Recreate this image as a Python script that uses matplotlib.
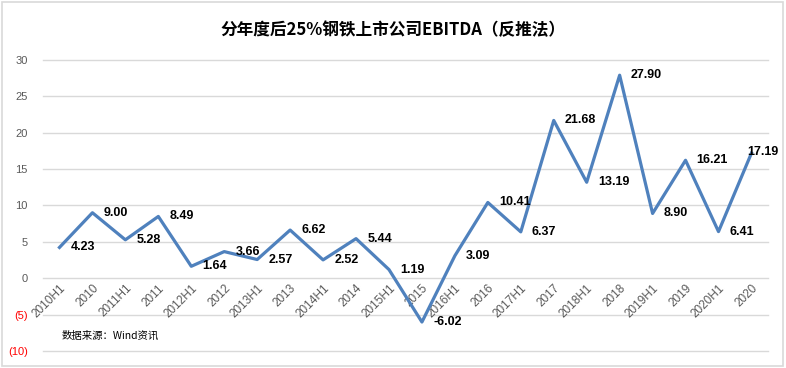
import matplotlib.pyplot as plt
from matplotlib.patches import Rectangle
from matplotlib.ticker import FuncFormatter

plt.rcParams['font.family'] = ['Noto Sans CJK SC', 'DejaVu Sans']

# 数据
periods = ['2010H1', '2010', '2011H1', '2011', '2012H1', '2012', '2013H1', '2013',
           '2014H1', '2014', '2015H1', '2015', '2016H1', '2016', '2017H1', '2017',
           '2018H1', '2018', '2019H1', '2019', '2020H1', '2020']
ebitda = [4.23, 9.00, 5.28, 8.49, 1.64, 3.66, 2.57, 6.62, 2.52, 5.44, 1.19, -6.02,
          3.09, 10.41, 6.37, 21.68, 13.19, 27.90, 8.90, 16.21, 6.41, 17.19]
yticks = [-10, -5, 0, 5, 10, 15, 20, 25, 30]

fig = plt.figure(figsize=(7.86, 3.68), dpi=100)
fig.patches.append(Rectangle((0.003, 0.005), 0.993, 0.99, transform=fig.transFigure,
                             fill=False, edgecolor='#d9d9d9', linewidth=1.2))
ax = fig.add_axes([0.0547, 0.0462, 0.9223, 0.791])

x = list(range(len(periods)))
ax.plot(x, ebitda, color='#4f81bd', linewidth=2.3, zorder=3)

for i, v in enumerate(ebitda):
    # 最后一个标签放在点的上方，避免超出边框
    off = (-3, 1) if i == len(ebitda) - 1 else (8, 0)
    ax.annotate('%.2f' % v, (i, v), xytext=off, textcoords='offset points',
                ha='left', va='center', fontsize=9, fontweight='bold',
                family='Liberation Sans', color='black', zorder=4)

# 网格线
for t in yticks:
    ax.axhline(t, color='#d9d9d9', linewidth=1, zorder=1, clip_on=False)

ax.set_xlim(-0.5, len(periods) - 0.5)
ax.set_ylim(-10, 30)
ax.set_yticks(yticks)
ax.yaxis.set_major_formatter(FuncFormatter(lambda v, p: '(%d)' % -v if v < 0 else '%d' % v))
ax.tick_params(axis='y', length=0, pad=11, labelsize=8, labelcolor='#595959')
for lbl, t in zip(ax.get_yticklabels(), yticks):
    lbl.set_family('Liberation Sans')
    if t < 0:
        lbl.set_color('red')

ax.spines['bottom'].set_position(('data', 0))
for s in ax.spines.values():
    s.set_visible(False)
ax.set_xticks(x)
ax.set_xticklabels(periods, rotation=45, ha='right', rotation_mode='anchor',
                   fontsize=8.5, color='#595959', family='Liberation Sans')
ax.tick_params(axis='x', length=0, pad=3)

fig.text(0.5, 0.918, '分年度后25%钢铁上市公司EBITDA（反推法）', ha='center', va='center',
         fontsize=12, fontweight='bold')
fig.text(0.079, 0.087, '数据来源：Wind资讯', ha='left', va='center', fontsize=7.5)

fig.savefig('out.png', dpi=100)
